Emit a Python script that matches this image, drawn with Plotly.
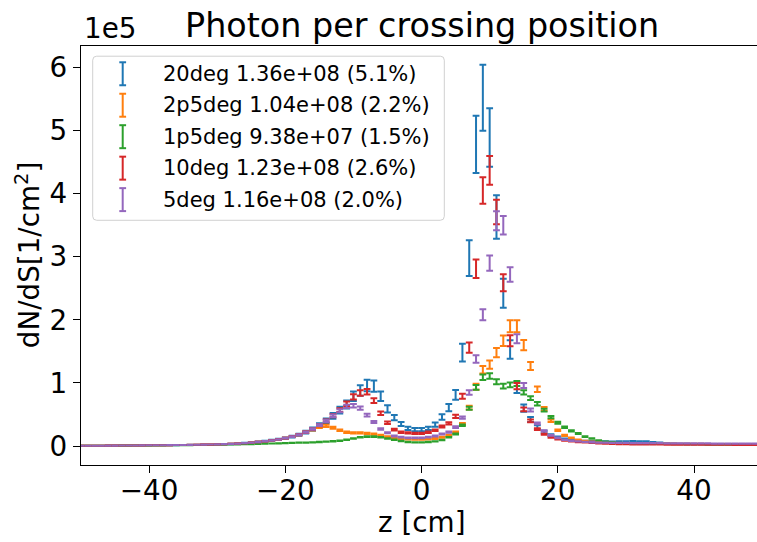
import plotly.graph_objects as go

# ---------------- data (values in units of 1e5 per cm^2) ----------------
z = list(range(-50, 50))

tail_left = [0.005, 0.005, 0.006, 0.006, 0.007, 0.007, 0.008, 0.009, 0.010, 0.011,
             0.012, 0.013, 0.014, 0.015, 0.016, 0.017, 0.018, 0.020, 0.022, 0.024]
tail_left_green = [0.004, 0.004, 0.005, 0.005, 0.006, 0.006, 0.007, 0.007, 0.008, 0.009,
                   0.010, 0.010, 0.011, 0.012, 0.013, 0.014, 0.015, 0.016, 0.017, 0.018]

deg20 = tail_left + [
    0.026, 0.030, 0.034, 0.040, 0.047, 0.055, 0.065, 0.077, 0.090, 0.105,
    0.125, 0.150, 0.180, 0.220, 0.270, 0.330, 0.400, 0.480, 0.570, 0.660,
    0.790, 0.880, 0.960, 0.950, 0.790, 0.590, 0.450, 0.350, 0.280, 0.260,
    0.260, 0.280, 0.340, 0.460, 0.610, 0.810, 1.480, 2.980, 4.780, 5.520,
    4.890, 3.630, 2.420, 1.530, 0.930, 0.600, 0.420, 0.300, 0.220, 0.170,
    0.140, 0.110, 0.095, 0.085, 0.078, 0.072, 0.070, 0.068, 0.066, 0.068,
    0.070, 0.072, 0.070, 0.068, 0.060, 0.050, 0.042, 0.038, 0.035, 0.033,
    0.031, 0.030, 0.029, 0.028, 0.027, 0.026, 0.025, 0.024, 0.023, 0.022]

deg2p5 = tail_left + [
    0.026, 0.030, 0.034, 0.040, 0.047, 0.055, 0.065, 0.077, 0.090, 0.105,
    0.125, 0.150, 0.180, 0.220, 0.260, 0.300, 0.320, 0.290, 0.250, 0.220,
    0.210, 0.210, 0.200, 0.190, 0.170, 0.150, 0.130, 0.120, 0.110, 0.105,
    0.105, 0.110, 0.120, 0.140, 0.170, 0.220, 0.350, 0.610, 0.940, 1.210,
    1.290, 1.480, 1.670, 1.900, 1.900, 1.600, 1.270, 0.900, 0.590, 0.400,
    0.250, 0.170, 0.130, 0.100, 0.080, 0.068, 0.060, 0.054, 0.050, 0.047,
    0.045, 0.043, 0.042, 0.041, 0.040, 0.039, 0.038, 0.037, 0.036, 0.035,
    0.034, 0.034, 0.033, 0.033, 0.032, 0.032, 0.031, 0.031, 0.030, 0.030]

deg1p5 = tail_left_green + [
    0.020, 0.022, 0.024, 0.026, 0.029, 0.032, 0.035, 0.038, 0.041, 0.044,
    0.047, 0.050, 0.053, 0.056, 0.060, 0.065, 0.070, 0.076, 0.085, 0.100,
    0.120, 0.140, 0.150, 0.150, 0.140, 0.120, 0.100, 0.080, 0.065, 0.060,
    0.058, 0.065, 0.075, 0.095, 0.140, 0.190, 0.330, 0.600, 0.930, 1.090,
    1.110, 1.020, 0.950, 0.970, 0.990, 0.850, 0.760, 0.670, 0.570, 0.460,
    0.370, 0.300, 0.240, 0.200, 0.150, 0.120, 0.090, 0.070, 0.060, 0.050,
    0.045, 0.042, 0.040, 0.038, 0.036, 0.034, 0.033, 0.032, 0.031, 0.030,
    0.029, 0.028, 0.027, 0.026, 0.025, 0.024, 0.023, 0.022, 0.021, 0.020]

deg10 = tail_left + [
    0.026, 0.030, 0.034, 0.040, 0.047, 0.055, 0.065, 0.077, 0.090, 0.105,
    0.125, 0.150, 0.180, 0.220, 0.270, 0.330, 0.400, 0.480, 0.570, 0.670,
    0.780, 0.840, 0.860, 0.720, 0.520, 0.370, 0.260, 0.220, 0.210, 0.200,
    0.200, 0.220, 0.250, 0.310, 0.360, 0.470, 0.790, 1.560, 2.810, 4.050,
    4.370, 3.710, 2.590, 1.670, 0.950, 0.580, 0.400, 0.270, 0.190, 0.140,
    0.110, 0.090, 0.075, 0.065, 0.058, 0.050, 0.045, 0.040, 0.035, 0.032,
    0.030, 0.028, 0.027, 0.026, 0.025, 0.025, 0.024, 0.024, 0.023, 0.023,
    0.022, 0.022, 0.021, 0.021, 0.020, 0.020, 0.019, 0.019, 0.018, 0.018]

deg5 = tail_left + [
    0.026, 0.030, 0.034, 0.040, 0.047, 0.055, 0.065, 0.077, 0.090, 0.105,
    0.125, 0.150, 0.180, 0.220, 0.270, 0.330, 0.400, 0.480, 0.560, 0.630,
    0.640, 0.600, 0.490, 0.380, 0.270, 0.210, 0.160, 0.140, 0.130, 0.130,
    0.130, 0.140, 0.160, 0.190, 0.220, 0.300, 0.450, 0.850, 1.380, 2.080,
    2.900, 3.570, 3.500, 2.720, 1.700, 0.960, 0.570, 0.360, 0.240, 0.170,
    0.130, 0.100, 0.085, 0.075, 0.066, 0.060, 0.056, 0.053, 0.050, 0.050,
    0.049, 0.048, 0.047, 0.046, 0.045, 0.045, 0.044, 0.043, 0.043, 0.042,
    0.042, 0.041, 0.041, 0.040, 0.040, 0.040, 0.039, 0.039, 0.038, 0.038]

# relative statistical error of each series
rel_err = [0.095, 0.05, 0.04, 0.052, 0.042]

labels = ["20deg 1.36e+08 (5.1%)", "2p5deg 1.04e+08 (2.2%)", "1p5deg 9.38e+07 (1.5%)",
          "10deg 1.23e+08 (2.6%)", "5deg 1.16e+08 (2.0%)"]
series = [deg20, deg2p5, deg1p5, deg10, deg5]
colors = ["#1f77b4", "#ff7f0e", "#2ca02c", "#d62728", "#9467bd"]

x_ticks = [-40, -20, 0, 20, 40]
y_ticks = [0, 1, 2, 3, 4, 5, 6]

# ---------------- layout geometry (pixels) ----------------
W, H = 757, 542
L, R, T, B = 81, 0, 45.5, 77
PW, PH = W - L - R, H - T - B
FONT = "DejaVu Sans"


def px(x):
    return (x - L) / PW


def py(y):
    return (H - B - y) / PH


fig = go.Figure()
for vals, col, rel in zip(series, colors, rel_err):
    fig.add_trace(go.Scatter(
        x=z, y=vals, mode="markers",
        marker=dict(size=1, color="rgba(0,0,0,0)"),
        error_y=dict(type="data", array=[v * rel for v in vals], visible=True,
                     color=col, thickness=2, width=3.4),
        showlegend=False, hoverinfo="skip"))

shapes = []
annotations = []

# legend box (rounded)
x0, x1, y0, y1, r = px(92.7), px(444.3), py(220), py(55.7), 4
rx, ry = r / PW, r / PH
path = (f"M {x0+rx},{y1} L {x1-rx},{y1} Q {x1},{y1} {x1},{y1-ry} "
        f"L {x1},{y0+ry} Q {x1},{y0} {x1-rx},{y0} L {x0+rx},{y0} "
        f"Q {x0},{y0} {x0},{y0+ry} L {x0},{y1-ry} Q {x0},{y1} {x0+rx},{y1} Z")
shapes.append(dict(type="path", xref="paper", yref="paper", path=path,
                   fillcolor="rgba(255,255,255,0.8)", line=dict(color="#d0d0d0", width=1)))
for i, (lab, col) in enumerate(zip(labels, colors)):
    cy = 73.3 + i * 31.5
    sx = 122.7
    shapes.append(dict(type="line", xref="paper", yref="paper",
                       x0=px(sx), x1=px(sx), y0=py(cy - 11.5), y1=py(cy + 11.5),
                       line=dict(color=col, width=2)))
    for dy in (-11.5, 11.5):
        shapes.append(dict(type="line", xref="paper", yref="paper",
                           x0=px(sx - 3.4), x1=px(sx + 3.4), y0=py(cy + dy), y1=py(cy + dy),
                           line=dict(color=col, width=2)))
    annotations.append(dict(xref="paper", yref="paper", x=px(161), y=py(cy),
                            xanchor="left", yanchor="middle", text=lab, showarrow=False,
                            font=dict(family=FONT, size=21, color="black")))

# title, offset text, axis titles
annotations.append(dict(xref="paper", yref="paper", x=px(421.5), y=py(25),
                        xanchor="center", yanchor="middle", text="Photon per crossing position",
                        showarrow=False, font=dict(family=FONT, size=33.4, color="black")))
annotations.append(dict(xref="paper", yref="paper", x=px(82), y=py(28),
                        xanchor="left", yanchor="middle", text="1e5",
                        showarrow=False, font=dict(family=FONT, size=27.8, color="black")))
annotations.append(dict(xref="paper", yref="paper", x=px(421.5), y=py(523),
                        xanchor="center", yanchor="middle", text="z [cm]",
                        showarrow=False, font=dict(family=FONT, size=27.8, color="black")))
annotations.append(dict(xref="paper", yref="paper", x=px(28), y=py(255),
                        xanchor="center", yanchor="middle", text="dN/dS[1/cm<sup>2</sup>]",
                        textangle=-90, showarrow=False,
                        font=dict(family=FONT, size=27.8, color="black")))

fig.update_layout(
    width=W, height=H, margin=dict(l=L, r=R, t=T, b=B, autoexpand=False),
    paper_bgcolor="white", plot_bgcolor="white",
    font=dict(family=FONT, size=27.8, color="black"),
    shapes=shapes, annotations=annotations, showlegend=False,
    xaxis=dict(range=[-50, 49.25], tickvals=x_ticks, ticktext=[str(v).replace("-", "\u2212") for v in x_ticks],
               ticks="outside", ticklen=7, tickwidth=1.3, tickcolor="black",
               ticklabelstandoff=-7,
               showline=True, linecolor="black", linewidth=1.3, mirror=True,
               showgrid=False, zeroline=False),
    yaxis=dict(range=[-0.30, 6.34], tickvals=y_ticks, ticktext=[str(v) for v in y_ticks],
               ticks="outside", ticklen=7, tickwidth=1.3, tickcolor="black",
               showline=True, linecolor="black", linewidth=1.3, mirror=False,
               showgrid=False, zeroline=False),
)

fig.write_html("out.html")
